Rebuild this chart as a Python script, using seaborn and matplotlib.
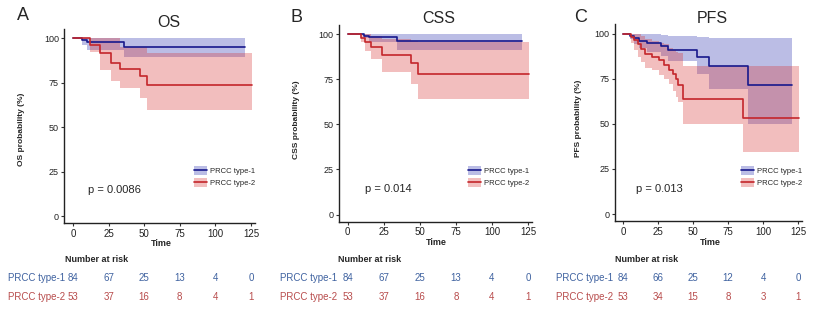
import pandas as pd
import seaborn as sns
import matplotlib
matplotlib.use("Agg")
import matplotlib.pyplot as plt
import matplotlib.transforms as mtransforms
from matplotlib.patches import Patch
from matplotlib.lines import Line2D
from matplotlib.legend_handler import HandlerTuple

groups = ["PRCC type-1", "PRCC type-2"]

# OS
os_t1_time = [0, 6, 10, 36, 121]
os_t1_surv = [100, 98.8, 97.8, 95.1, 95.1]
os_t1_low = [100, 96.5, 93.4, 89.4, 89.4]
os_t1_up = [100, 100, 100, 100, 100]
os_t2_time = [0, 12, 19, 27, 33, 47, 52, 126]
os_t2_surv = [100, 96.2, 91.5, 86.2, 83.0, 78.7, 73.6, 73.6]
os_t2_low = [100, 92.5, 82.3, 76.0, 72.3, 66.3, 59.7, 59.7]
os_t2_up = [100, 100, 100, 100, 95.0, 95.0, 91.8, 91.8]

# CSS
css_t1_time = [0, 11, 15, 34, 120.5]
css_t1_surv = [100, 99.3, 98.5, 96.3, 96.3]
css_t1_low = [100, 98.0, 95.7, 91.1, 91.1]
css_t1_up = [100, 100, 100, 100, 100]
css_t2_time = [0, 9, 12, 16, 24, 44, 49, 126]
css_t2_surv = [100, 98.0, 95.8, 93.1, 88.3, 83.8, 78.2, 78.2]
css_t2_low = [100, 95.5, 91.0, 86.3, 79.1, 72.2, 64.0, 64.0]
css_t2_up = [100, 100, 100, 99.0, 97.5, 96.5, 96.0, 96.0]

# PFS
pfs_t1_time = [0, 5, 8, 11, 17, 27, 32, 52.5, 61, 89, 121]
pfs_t1_surv = [100, 98.8, 97.6, 96.1, 94.7, 93.2, 91.0, 86.9, 81.9, 71.7, 71.7]
pfs_t1_low = [100, 97.0, 94.3, 92.0, 89.5, 87.5, 84.5, 77.7, 69.5, 50.1, 50.1]
pfs_t1_up = [100, 100, 100, 100, 99.5, 99.0, 98.5, 98.0, 97.5, 97.5, 97.5]
pfs_t2_time = [0, 5.5, 7.5, 10.7, 13, 15.5, 20.3, 25.6, 29.2, 32.7, 35.7, 37.5, 38.8, 42.4, 85.8, 125.7]
pfs_t2_surv = [100, 98.1, 96.2, 94.3, 91.5, 88.8, 86.9, 85.1, 82.3, 79.6, 77.7, 74.9, 71.3, 63.9, 53.1, 53.1]
pfs_t2_low = [100, 95, 91, 87, 84, 81, 79.6, 77, 75, 72, 68, 65, 62, 50.1, 34.4, 34.4]
pfs_t2_up = [100, 100, 100, 99.5, 98.5, 97, 96, 95, 94, 92, 91, 90, 89, 82, 82, 82]

# number at risk
risk_times = [0, 25, 50, 75, 100, 125]
os_risk_t1 = [84, 67, 25, 13, 4, 0]
os_risk_t2 = [53, 37, 16, 8, 4, 1]
css_risk_t1 = [84, 67, 25, 13, 4, 0]
css_risk_t2 = [53, 37, 16, 8, 4, 1]
pfs_risk_t1 = [84, 66, 25, 12, 4, 0]
pfs_risk_t2 = [53, 34, 15, 8, 3, 1]

line_cols = ["#17188c", "#c4262b"]
band_cols = ["#3338b0", "#d83a3a"]
risk_cols = ["#3f62a0", "#b84c4c"]

sns.set_style("white")
plt.rcParams["font.family"] = ["Liberation Sans", "DejaVu Sans"]

W, H = 824, 319
fig = plt.figure(figsize=(W / 100, H / 100), dpi=100)
XLIM = (-6, 128)
YLIM = (-4, 105)


def px(x, y):
    return x / W, 1 - y / H


def make_ax(x0, x125, y100, y0):
    sx = (x125 - x0) / 125
    sy = (y0 - y100) / 100
    left = x0 + XLIM[0] * sx
    right = x0 + XLIM[1] * sx
    top = y100 - (YLIM[1] - 100) * sy
    bottom = y0 - YLIM[0] * sy
    return fig.add_axes([left / W, 1 - bottom / H, (right - left) / W, (bottom - top) / H])


panels = [
    dict(name="OS", letter="A", box=(73, 251, 38.3, 216),
         curves=[(os_t1_time, os_t1_surv, os_t1_low, os_t1_up),
                 (os_t2_time, os_t2_surv, os_t2_low, os_t2_up)],
         risk=[os_risk_t1, os_risk_t2], p="p = 0.0086",
         title_xy=(169, 22.5), letter_xy=(23, 15.5), ylab_xy=(22, 129),
         time_xy=(161, 243), p_xy=(88, 190), leg_xy=(194, 166), tab_x=65, lab_x=65),
    dict(name="CSS", letter="B", box=(347.7, 528, 34.3, 214.5),
         curves=[(css_t1_time, css_t1_surv, css_t1_low, css_t1_up),
                 (css_t2_time, css_t2_surv, css_t2_low, css_t2_up)],
         risk=[css_risk_t1, css_risk_t2], p="p = 0.014",
         title_xy=(439, 18.3), letter_xy=(296, 17), ylab_xy=(297, 120),
         time_xy=(436, 242.3), p_xy=(365, 189), leg_xy=(468, 166), tab_x=338, lab_x=337),
    dict(name="PFS", letter="C", box=(623.3, 798, 33.5, 214),
         curves=[(pfs_t1_time, pfs_t1_surv, pfs_t1_low, pfs_t1_up),
                 (pfs_t2_time, pfs_t2_surv, pfs_t2_low, pfs_t2_up)],
         risk=[pfs_risk_t1, pfs_risk_t2], p="p = 0.013",
         title_xy=(712.7, 18.7), letter_xy=(581, 18), ylab_xy=(578, 118),
         time_xy=(710, 242.3), p_xy=(636, 189), leg_xy=(741, 166), tab_x=615, lab_x=613),
]

for pn in panels:
    ax = make_ax(*pn["box"])
    frames = []
    for g, (t, s, lo, up) in enumerate(pn["curves"]):
        ax.fill_between(t, lo, up, step="post", color=band_cols[g], alpha=0.33, lw=0)
        frames.append(pd.DataFrame({"time": t, "surv": s, "group": groups[g]}))
    df = pd.concat(frames, ignore_index=True)
    sns.lineplot(data=df, x="time", y="surv", hue="group", palette=line_cols,
                 estimator=None, sort=False, drawstyle="steps-post", linewidth=1.2,
                 legend=False, ax=ax)
    ax.set_xlim(*XLIM)
    ax.set_ylim(*YLIM)
    ax.set_xticks(risk_times)
    ax.set_yticks([0, 25, 50, 75, 100])
    ax.set_xlabel("")
    ax.set_ylabel("")
    sns.despine(ax=ax)
    for sp in ["left", "bottom"]:
        ax.spines[sp].set_color("#222222")
        ax.spines[sp].set_linewidth(1.0)
    ax.tick_params(bottom=True, left=True, length=2.5, width=0.8, color="#333333",
                   pad=1.5, labelcolor="#222222")
    ax.tick_params(axis="x", labelsize=7)
    ax.tick_params(axis="y", labelsize=6.5)

    ax.text(*px(*pn["p_xy"]), pn["p"], transform=fig.transFigure, fontsize=8,
            ha="left", va="center")

    handles = [(Patch(facecolor=band_cols[g], alpha=0.33, lw=0),
                Line2D([], [], color=line_cols[g], lw=1.2)) for g in range(2)]
    ax.legend(handles, groups, handler_map={tuple: HandlerTuple(ndivide=1)},
              loc="upper left", bbox_to_anchor=px(*pn["leg_xy"]),
              bbox_transform=fig.transFigure, frameon=False, fontsize=5.5,
              handlelength=1.7, handleheight=1.45, labelspacing=0.4,
              handletextpad=0.4, borderpad=0, borderaxespad=0)

    fig.text(*px(*pn["title_xy"]), pn["name"], fontsize=11.5, ha="center", va="center")
    fig.text(*px(*pn["letter_xy"]), pn["letter"], fontsize=13, ha="center", va="center")
    fig.text(*px(*pn["ylab_xy"]), pn["name"] + " probability (%)", fontsize=6,
             fontweight="bold", rotation=90, ha="center", va="center")
    fig.text(*px(*pn["time_xy"]), "Time", fontsize=6.5, fontweight="bold",
             ha="center", va="center")
    fig.text(*px(pn["tab_x"], 259), "Number at risk", fontsize=6.5, fontweight="bold",
             ha="left", va="center")

    blend = mtransforms.blended_transform_factory(ax.transData, fig.transFigure)
    for g, row_y in enumerate([278, 297]):
        fig.text(*px(pn["lab_x"], row_y), groups[g], fontsize=7, color=risk_cols[g],
                 ha="right", va="center")
        for t, n in zip(risk_times, pn["risk"][g]):
            ax.text(t, 1 - row_y / H, str(n), transform=blend, fontsize=7,
                    color=risk_cols[g], ha="center", va="center", clip_on=False)

fig.savefig("out.png", dpi=100)
